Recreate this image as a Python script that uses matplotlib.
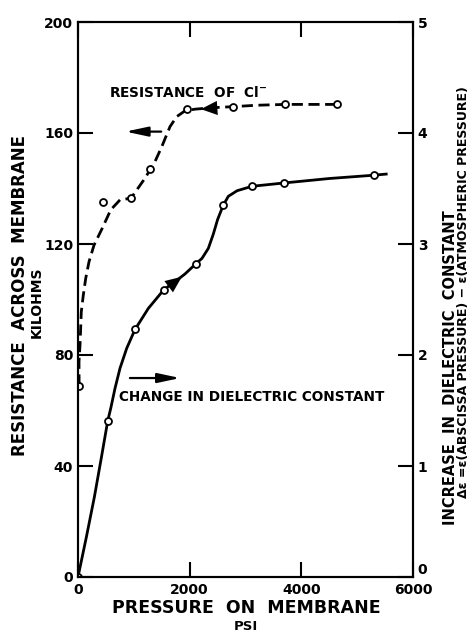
import matplotlib.pyplot as plt
from matplotlib import rc

rc('font', family='DejaVu Sans', weight='bold')
rc('axes', linewidth=1.5)

# Resistance of Cl- (left axis, kilohms): measured points
res_psi = [20, 453, 949, 1290, 1947, 2780, 3710, 4640]
res_kohm = [69, 135.2, 136.5, 147, 168.5, 169.5, 170.3, 170.3]
# dashed curve trace
res_curve_psi = [20, 18, 36, 48, 59, 95, 138, 197, 287, 435, 586, 752, 949, 1200,
                 1379, 1499, 1648, 1768, 1917, 2100, 2400, 2780, 3200, 3710, 4640]
res_curve_kohm = [69, 77.6, 83.6, 89.7, 95.6, 101.6, 107.6, 113.6, 119.6, 125.7,
                  132.3, 135.9, 136.5, 143.7, 149.7, 155, 162.3, 165.9, 168, 168.6,
                  169.1, 169.5, 170, 170.3, 170.3]

# Change in dielectric constant (right axis): measured points
die_psi = [0, 532, 1021, 1540, 2108, 2602, 3118, 3692, 5305]
die_val = [0, 1.405, 2.23, 2.59, 2.82, 3.35, 3.52, 3.55, 3.62]
# solid curve trace
die_curve_psi = [0, 150, 293, 420, 532, 591, 663, 752, 872, 1021, 1260, 1540, 1737,
                 1916, 2108, 2220, 2334, 2424, 2500, 2602, 2693, 2850, 3118, 3692,
                 4500, 5305, 5520]
die_curve_val = [0, 0.36, 0.72, 1.08, 1.405, 1.53, 1.70, 1.88, 2.06, 2.23, 2.42,
                 2.59, 2.66, 2.73, 2.82, 2.87, 2.96, 3.09, 3.22, 3.35, 3.43, 3.48,
                 3.52, 3.55, 3.59, 3.62, 3.63]

x_ticks = [0, 2000, 4000, 6000]
left_ticks = [0, 40, 80, 120, 160, 200]
right_ticks = [0, 1, 2, 3, 4, 5]

fig = plt.figure(figsize=(4.69, 6.34), dpi=100)
ax = fig.add_axes([78/469, 57/634, 335/469, 555/634])
ax2 = ax.twinx()

ax.plot(res_curve_psi, res_curve_kohm, color='black', lw=2.0, ls=(0, (4, 2)),
        solid_joinstyle='round')
ax.plot(res_psi, res_kohm, 'o', mfc='white', mec='black', mew=1.3, ms=5)
ax2.plot(die_curve_psi, die_curve_val, color='black', lw=2.0, solid_joinstyle='round')
ax2.plot(die_psi, die_val, 'o', mfc='white', mec='black', mew=1.3, ms=5)

head = dict(arrowstyle='-|>,head_length=0.7,head_width=0.3', color='black',
            lw=0, mutation_scale=17, shrinkA=0, shrinkB=0)
# arrowheads on the curves
ax.annotate('', xy=(2200, 168.6), xytext=(2700, 169.3), arrowprops=head)
ax2.annotate('', xy=(1860, 2.705), xytext=(1400, 2.53), arrowprops=head)
# direction arrows
line_arrow = dict(arrowstyle='-|>,head_length=0.75,head_width=0.16', color='black',
                  lw=1.6, mutation_scale=18)
ax.annotate('', xy=(800, 160.5), xytext=(1540, 160.5), arrowprops=line_arrow)
ax.annotate('', xy=(1880, 71.7), xytext=(880, 71.7), arrowprops=line_arrow)

ax.text(560, 174.5, 'RESISTANCE  OF  Cl$^{\\mathbf{-}}$', fontsize=9.8,
        ha='left', va='center')
ax.text(740, 64.8, 'CHANGE IN DIELECTRIC CONSTANT', fontsize=9.8,
        ha='left', va='center')

ax.set_xlim(0, 6000)
ax.set_ylim(0, 200)
ax2.set_ylim(0, 5)
ax.set_xticks(x_ticks)
ax.set_yticks(left_ticks)
ax2.set_yticks(right_ticks)

ax.tick_params(axis='both', direction='in', length=11, width=1.5, labelsize=10, top=True)
ax2.tick_params(axis='y', direction='in', length=11, width=1.5, labelsize=10)
ax.tick_params(axis='x', pad=4)
fig.canvas.draw()
for lbl in ax2.get_yticklabels():
    if lbl.get_text() == '0':
        lbl.set_verticalalignment('bottom')

fig.text(246/469, 1 - 608/634, 'PRESSURE  ON  MEMBRANE', fontsize=12.5,
         ha='center', va='center')
fig.text(246/469, 1 - 627/634, 'PSI', fontsize=9.5, ha='center', va='center')

fig.text(20/469, 1 - 296/634, 'RESISTANCE  ACROSS  MEMBRANE', fontsize=12,
         rotation=90, ha='center', va='center')
fig.text(37/469, 1 - 302/634, 'KILOHMS', fontsize=10, rotation=90,
         ha='center', va='center')

fig.text(450/469, 1 - 368/634, 'INCREASE  IN  DIELECTRIC  CONSTANT', fontsize=10.5,
         rotation=90, ha='center', va='center')
fig.text(463/469, 1 - 292/634,
         '\u0394\u03b5 =\u03b5(ABSCISSA PRESSURE) \u2212 \u03b5(ATMOSPHERIC PRESSURE)',
         fontsize=9, rotation=90, ha='center', va='center',
         family=['Liberation Sans Narrow', 'DejaVu Sans'])

fig.savefig('out.png', dpi=100)
